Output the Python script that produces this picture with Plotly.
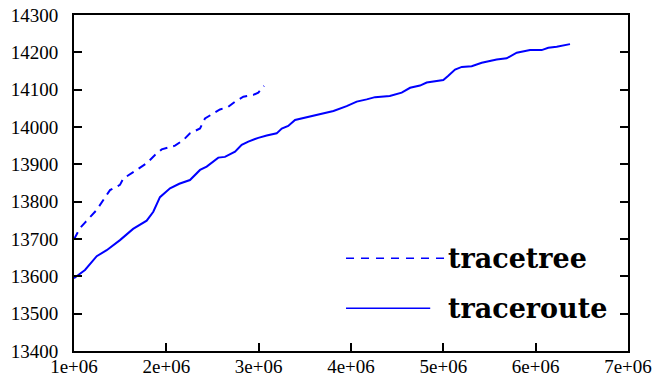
import plotly.graph_objects as go

# traceroute (solid)
route_x = [1.0e6, 1.119e6, 1.246e6, 1.354e6, 1.498e6, 1.64e6, 1.787e6, 1.859e6, 1.931e6,
           2.04e6, 2.14e6, 2.256e6, 2.365e6, 2.437e6, 2.563e6, 2.635e6, 2.744e6, 2.816e6,
           2.888e6, 2.996e6, 3.087e6, 3.195e6, 3.25e6, 3.32e6, 3.394e6, 3.556e6, 3.70e6,
           3.81e6, 3.953e6, 4.062e6, 4.17e6, 4.26e6, 4.42e6, 4.549e6, 4.64e6, 4.747e6,
           4.82e6, 5.0e6, 5.054e6, 5.127e6, 5.2e6, 5.307e6, 5.416e6, 5.505e6, 5.578e6,
           5.686e6, 5.795e6, 5.939e6, 6.065e6, 6.137e6, 6.228e6, 6.372e6]
route_y = [13595, 13617, 13654, 13670, 13697, 13727, 13749, 13773, 13812,
           13836, 13848, 13858, 13885, 13894, 13918, 13920, 13934, 13952,
           13961, 13971, 13977, 13983, 13996, 14003, 14019, 14029, 14038,
           14043, 14056, 14068, 14074, 14080, 14083, 14092, 14105, 14111,
           14119, 14126, 14137, 14154, 14161, 14163, 14172, 14177, 14181,
           14184, 14199, 14206, 14206, 14212, 14215, 14222]

# tracetree (dashed)
tree_x = [1.0e6, 1.065e6, 1.119e6, 1.246e6, 1.354e6, 1.39e6, 1.498e6, 1.534e6, 1.679e6,
          1.787e6, 1.877e6, 1.95e6, 2.094e6, 2.184e6, 2.256e6, 2.365e6, 2.419e6, 2.491e6,
          2.581e6, 2.671e6, 2.744e6, 2.834e6, 2.942e6, 2.996e6, 3.058e6]
tree_y = [13699, 13729, 13744, 13778, 13818, 13831, 13845, 13862, 13885,
          13903, 13925, 13940, 13950, 13965, 13983, 13996, 14023, 14034,
          14047, 14054, 14068, 14081, 14086, 14092, 14110]

x_ticks = [1e6, 2e6, 3e6, 4e6, 5e6, 6e6, 7e6]
x_labels = ["1e+06", "2e+06", "3e+06", "4e+06", "5e+06", "6e+06", "7e+06"]
y_ticks = [13400, 13500, 13600, 13700, 13800, 13900, 14000, 14100, 14200, 14300]
y_labels = [str(v) for v in y_ticks]

series_names = ["tracetree", "traceroute"]

BLUE = "#0000ff"
fig = go.Figure()
fig.add_trace(go.Scatter(x=tree_x, y=tree_y, mode="lines", name=series_names[0],
                         line=dict(color=BLUE, width=2, dash="8px,6px"), showlegend=False))
fig.add_trace(go.Scatter(x=route_x, y=route_y, mode="lines", name=series_names[1],
                         line=dict(color=BLUE, width=2), showlegend=False))

# manual legend (paper coords)
fig.add_shape(type="line", xref="paper", yref="paper", x0=0.491, x1=0.67, y0=0.276, y1=0.276,
              line=dict(color=BLUE, width=1.5, dash="8px,7px"))
fig.add_shape(type="line", xref="paper", yref="paper", x0=0.491, x1=0.643, y0=0.127, y1=0.127,
              line=dict(color=BLUE, width=1.5))
legend_font = dict(family="DejaVu Serif", size=27, color="black")
fig.add_annotation(xref="paper", yref="paper", x=0.671, y=0.276, text="<b>" + series_names[0] + "</b>",
                   showarrow=False, xanchor="left", yanchor="middle", font=legend_font)
fig.add_annotation(xref="paper", yref="paper", x=0.671, y=0.127, text="<b>" + series_names[1] + "</b>",
                   showarrow=False, xanchor="left", yanchor="middle", font=legend_font)

axis_font = dict(family="Liberation Serif, Times New Roman, Times, serif", size=19, color="black")
fig.update_layout(
    font=dict(family="Liberation Serif, Times New Roman, Times, serif", size=19, color="black"),
    width=665, height=378,
    margin=dict(l=74, r=37, t=15, b=27),
    paper_bgcolor="white", plot_bgcolor="white",
    xaxis=dict(range=[1e6, 7e6], tickvals=x_ticks, ticktext=x_labels, automargin=False,
               showgrid=False, zeroline=False, showline=True, linecolor="black", linewidth=2,
               mirror=True, ticks="inside", ticklen=8, tickwidth=1.5, tickcolor="black",
               tickfont=axis_font, ticklabelstandoff=-3),
    yaxis=dict(range=[13400, 14300], tickvals=y_ticks, ticktext=y_labels, automargin=False,
               showgrid=False, zeroline=False, showline=True, linecolor="black", linewidth=2,
               mirror="ticks", ticks="inside", ticklen=8, tickwidth=1.5, tickcolor="black",
               tickfont=axis_font, ticklabelstandoff=10),
)
fig.write_html("out.html")
